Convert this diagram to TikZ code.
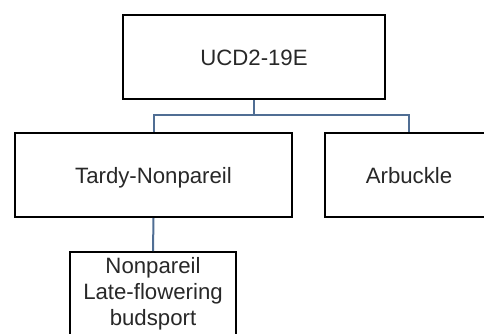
\documentclass[tikz,border=0pt]{standalone}
\usepackage{fontspec}
\setmainfont{Liberation Sans}
\definecolor{conn}{RGB}{80,110,148}
\definecolor{txt}{RGB}{40,40,40}
\begin{document}
\begin{tikzpicture}[x=1pt,y=-1pt,
  box/.style={draw=black,line width=2pt,fill=white,inner sep=0pt,align=center,
    text=txt,font=\fontsize{22.2}{26}\selectfont,minimum height=84pt},
  single/.style={text height=16pt,text depth=0pt},
  conline/.style={draw=conn,line width=2pt}]
\useasboundingbox (0,0) rectangle (484,333);
\node[box,single,minimum width=262pt] (top) at (254,57) {UCD2-19E};
\node[box,single,minimum width=277pt] (tardy) at (153.5,175) {Tardy-Nonpareil};
\node[box,single,minimum width=168pt] (arb) at (409,175) {Arbuckle};
\node[box,minimum width=166pt] (bud) at (153,294) {Nonpareil\\Late-flowering\\budsport};
\coordinate (mid) at (254,115);
\draw[conline] (top.south) -- (mid) -| (tardy.north);
\draw[conline] (mid) -| (arb.north);
\draw[conline] (tardy.south) -- (bud.north);
\end{tikzpicture}
\end{document}
